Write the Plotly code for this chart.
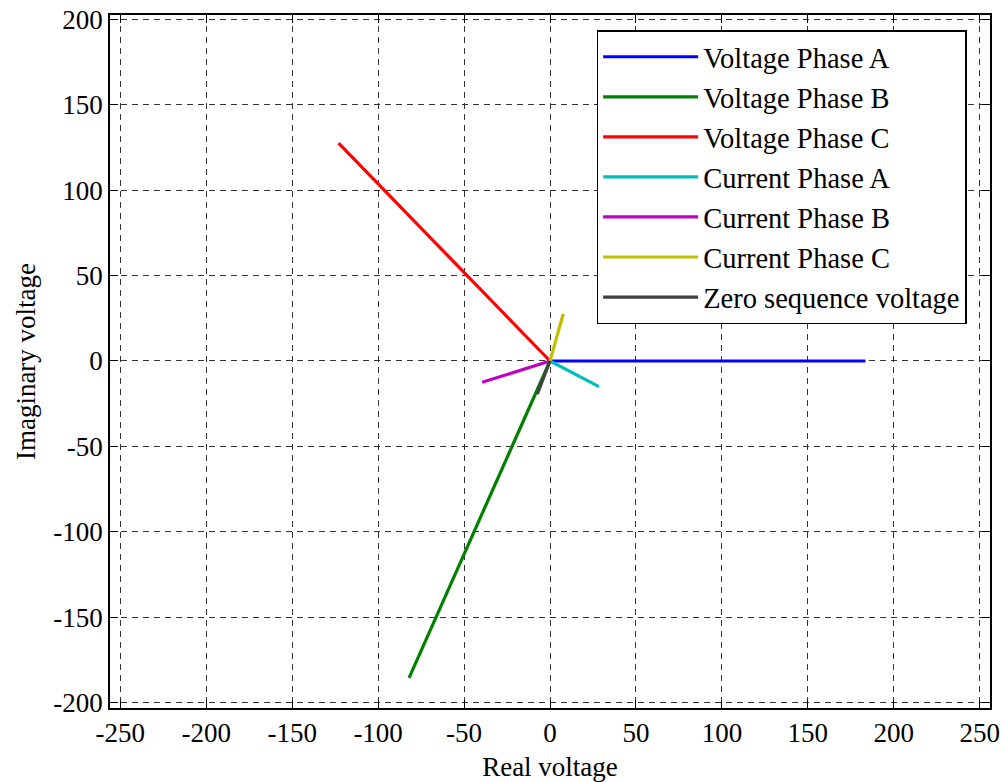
import plotly.graph_objects as go

names = ["Voltage Phase A", "Voltage Phase B", "Voltage Phase C",
         "Current Phase A", "Current Phase B", "Current Phase C",
         "Zero sequence voltage"]
real_parts = [183.5, -82.0, -123.0, 28.5, -39.5, 7.7, -7.4]
imag_parts = [0.0, -185.5, 127.5, -15.0, -12.5, 27.5, -19.5]
colors = ["#0000ff", "#008000", "#ff0000", "#00bfbf", "#bf00bf", "#bfbf00", "#404040"]

x_ticks = [-250, -200, -150, -100, -50, 0, 50, 100, 150, 200, 250]
y_ticks = [-200, -150, -100, -50, 0, 50, 100, 150, 200]
x_tick_text = [str(v) for v in x_ticks]
y_tick_text = [str(v) for v in y_ticks]

FONT = "Liberation Serif, Times New Roman, serif"

fig = go.Figure()
for n, re, im, c in zip(names, real_parts, imag_parts, colors):
    fig.add_trace(go.Scatter(x=[0, re], y=[0, im], mode="lines", name=n,
                             line=dict(color=c, width=3.2)))

axis_common = dict(showline=True, linecolor="black", linewidth=1.5, mirror="ticks",
                   ticks="inside", ticklen=8, tickcolor="black", automargin=False,
                   showgrid=True, gridcolor="#333333", gridwidth=1, griddash="6px,5px",
                   zeroline=False, tickfont=dict(family=FONT, size=27, color="black"))

fig.update_xaxes(range=[-256, 256], tickvals=x_ticks, ticktext=x_tick_text,
                 title=dict(text="Real voltage", font=dict(family=FONT, size=27, color="black"), standoff=14),
                 **axis_common)
fig.update_yaxes(range=[-203.1, 202.5], tickvals=y_ticks, ticktext=y_tick_text,
                 title=dict(text="Imaginary voltage", font=dict(family=FONT, size=27, color="black"), standoff=10),
                 **axis_common)

fig.update_layout(
    width=1004, height=782,
    margin=dict(l=110, r=14, t=15, b=74),
    plot_bgcolor="white", paper_bgcolor="white",
    font=dict(family=FONT, size=27, color="black"),
    legend=dict(x=0.553, y=0.978, xanchor="left", yanchor="top",
                bgcolor="white", bordercolor="black", borderwidth=1.5,
                font=dict(family=FONT, size=28.5, color="black"),
                itemwidth=95, tracegroupgap=0),
    showlegend=True,
)

fig.write_html("out.html")
